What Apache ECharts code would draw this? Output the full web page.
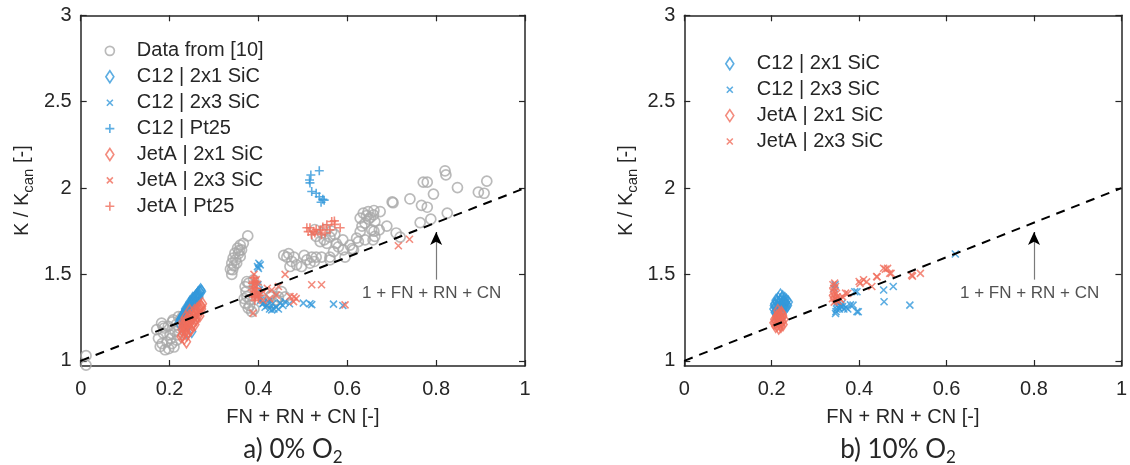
<!DOCTYPE html>
<html>
<head>
<meta charset="utf-8">
<script src="https://cdn.jsdelivr.net/npm/echarts@6/dist/echarts.min.js"></script>
<style>
  html, body { margin: 0; padding: 0; background: #fff; }
  #chart { width: 1130px; height: 465px; }
</style>
</head>
<body>
<div id="chart"></div>
<script>
// ---- axis ticks -------------------------------------------------------
const xTicks = [0, 0.2, 0.4, 0.6, 0.8, 1];
const yTicks = [1, 1.5, 2, 2.5, 3];

// reference correlation K/Kcan = 1 + FN + RN + CN
const refLine = [[0, 1], [1, 2]];
const arrowFrom = [0.8, 1.47];
const arrowTo = [0.8, 1.745];
const annotationAt = [0.79, 1.39];
const annotationText = '1 + FN + RN + CN';

// ---- a) 0% O2 ---------------------------------------------------------
const lit0 = [
  [0.012, 1.03], [0.012, 0.975],
  [0.171, 1.18], [0.175, 1.13], [0.179, 1.083], [0.186, 1.16], [0.19, 1.064], [0.182, 1.218],
  [0.197, 1.20], [0.201, 1.15], [0.205, 1.10], [0.208, 1.237], [0.212, 1.17], [0.216, 1.12],
  [0.22, 1.256], [0.194, 1.11], [0.188, 1.19], [0.215, 1.21], [0.203, 1.13], [0.225, 1.24],
  [0.21, 1.08], [0.198, 1.07], [0.183, 1.10], [0.222, 1.19], [0.218, 1.15], [0.23, 1.26],
  [0.224, 1.22], [0.185, 1.20], [0.206, 1.225],
  [0.376, 1.723], [0.359, 1.67], [0.353, 1.652], [0.347, 1.623], [0.355, 1.62], [0.343, 1.594],
  [0.34, 1.565], [0.351, 1.565], [0.342, 1.527], [0.34, 1.50], [0.359, 1.604], [0.362, 1.642],
  [0.366, 1.68], [0.345, 1.55], [0.337, 1.53], [0.349, 1.585], [0.357, 1.64],
  [0.374, 1.459], [0.37, 1.43], [0.374, 1.372], [0.37, 1.334], [0.377, 1.305], [0.385, 1.285],
  [0.381, 1.353], [0.389, 1.469], [0.396, 1.43], [0.372, 1.40], [0.38, 1.32], [0.39, 1.30],
  [0.378, 1.45], [0.368, 1.36],
  [0.426, 1.372], [0.422, 1.334], [0.43, 1.38], [0.441, 1.353], [0.452, 1.40], [0.434, 1.334],
  [0.445, 1.37], [0.415, 1.35], [0.46, 1.37],
  [0.464, 1.60], [0.475, 1.575], [0.486, 1.556], [0.497, 1.546], [0.509, 1.584], [0.52, 1.60],
  [0.53, 1.60], [0.516, 1.565], [0.471, 1.546], [0.542, 1.60], [0.561, 1.584], [0.457, 1.61],
  [0.468, 1.62], [0.48, 1.60], [0.503, 1.61], [0.526, 1.575],
  [0.527, 1.76], [0.543, 1.74], [0.539, 1.69], [0.554, 1.68], [0.561, 1.716], [0.572, 1.73],
  [0.569, 1.632], [0.561, 1.60], [0.591, 1.642], [0.595, 1.60], [0.606, 1.67], [0.614, 1.642],
  [0.575, 1.68], [0.59, 1.70], [0.548, 1.70], [0.53, 1.72], [0.565, 1.75], [0.58, 1.66], [0.55, 1.76],
  [0.621, 1.71], [0.629, 1.748], [0.64, 1.70], [0.655, 1.758], [0.662, 1.72], [0.64, 1.797],
  [0.629, 1.826], [0.662, 1.806], [0.636, 1.855], [0.647, 1.864], [0.659, 1.845], [0.652, 1.83],
  [0.643, 1.84], [0.633, 1.78], [0.648, 1.82], [0.611, 1.65], [0.625, 1.69],
  [0.66, 1.87], [0.674, 1.864], [0.701, 1.92], [0.703, 1.915], [0.689, 1.78], [0.672, 1.758],
  [0.66, 1.75], [0.71, 1.74], [0.719, 1.716], [0.658, 1.70], [0.741, 1.937], [0.767, 1.90],
  [0.78, 1.889], [0.771, 2.034], [0.78, 2.034], [0.794, 1.965], [0.82, 2.10], [0.822, 2.076],
  [0.848, 2.003], [0.895, 1.976], [0.908, 1.97], [0.914, 2.04], [0.764, 1.80], [0.788, 1.82],
  [0.825, 1.855]
];
const c12Sic21_0 = [
  [0.222, 1.22], [0.225, 1.24], [0.228, 1.25], [0.23, 1.262], [0.232, 1.27], [0.235, 1.283],
  [0.238, 1.29], [0.24, 1.30], [0.243, 1.312], [0.245, 1.32], [0.248, 1.33], [0.25, 1.345],
  [0.253, 1.35], [0.255, 1.36], [0.258, 1.372], [0.26, 1.375], [0.263, 1.385], [0.265, 1.394],
  [0.268, 1.40], [0.27, 1.41], [0.272, 1.402], [0.236, 1.30], [0.246, 1.34], [0.252, 1.36],
  [0.262, 1.38], [0.255, 1.33], [0.242, 1.28], [0.232, 1.245], [0.266, 1.37], [0.24, 1.16],
  [0.25, 1.17], [0.227, 1.23], [0.258, 1.35],
  [0.224, 1.235], [0.229, 1.255], [0.233, 1.275], [0.237, 1.295], [0.241, 1.305], [0.244, 1.325],
  [0.249, 1.34], [0.254, 1.355], [0.259, 1.365], [0.264, 1.39], [0.269, 1.395], [0.247, 1.31],
  [0.238, 1.27], [0.256, 1.345], [0.261, 1.36]
];
const c12Sic23_0 = [
  [0.398, 1.545], [0.401, 1.565], [0.404, 1.555], [0.40, 1.535], [0.399, 1.44], [0.402, 1.41],
  [0.40, 1.38], [0.405, 1.35], [0.41, 1.33], [0.415, 1.31], [0.42, 1.32], [0.425, 1.30],
  [0.43, 1.295], [0.435, 1.30], [0.44, 1.31], [0.445, 1.30], [0.449, 1.334], [0.46, 1.343],
  [0.47, 1.33], [0.501, 1.334], [0.516, 1.33], [0.52, 1.325], [0.569, 1.328], [0.59, 1.32],
  [0.422, 1.343], [0.411, 1.334], [0.432, 1.33], [0.455, 1.32]
];
const c12Pt25_0 = [
  [0.537, 2.10], [0.518, 2.076], [0.515, 2.047], [0.516, 2.03], [0.52, 1.98], [0.53, 1.97],
  [0.537, 1.95], [0.545, 1.935], [0.541, 1.918], [0.548, 1.93]
];
const jetSic21_0 = [
  [0.226, 1.14], [0.228, 1.18], [0.23, 1.20], [0.232, 1.16], [0.234, 1.22], [0.236, 1.19],
  [0.238, 1.11], [0.24, 1.24], [0.242, 1.20], [0.244, 1.26], [0.246, 1.23], [0.248, 1.18],
  [0.25, 1.27], [0.252, 1.25], [0.254, 1.22], [0.256, 1.29], [0.258, 1.27], [0.26, 1.24],
  [0.262, 1.30], [0.264, 1.28], [0.266, 1.31], [0.268, 1.26], [0.27, 1.32], [0.272, 1.30],
  [0.274, 1.33], [0.229, 1.22], [0.235, 1.25], [0.245, 1.29], [0.239, 1.15], [0.233, 1.13],
  [0.257, 1.21], [0.243, 1.17], [0.246, 1.18], [0.257, 1.237], [0.272, 1.314],
  [0.228, 1.15], [0.231, 1.21], [0.236, 1.17], [0.241, 1.22], [0.247, 1.25], [0.251, 1.21],
  [0.255, 1.26], [0.259, 1.28], [0.263, 1.26], [0.267, 1.30], [0.249, 1.23], [0.237, 1.23],
  [0.232, 1.19]
];
const jetSic23_0 = [
  [0.39, 1.50], [0.388, 1.276], [0.395, 1.47], [0.41, 1.40], [0.42, 1.42], [0.43, 1.41],
  [0.44, 1.38], [0.46, 1.50], [0.445, 1.43], [0.471, 1.372], [0.48, 1.37], [0.479, 1.343],
  [0.485, 1.36], [0.52, 1.44], [0.542, 1.44], [0.595, 1.324], [0.715, 1.666], [0.74, 1.704],
  [0.41, 1.35], [0.425, 1.36]
];
const jetPt25_0 = [
  [0.39, 1.48], [0.392, 1.45], [0.388, 1.43], [0.395, 1.42], [0.39, 1.40], [0.398, 1.39],
  [0.386, 1.38], [0.393, 1.37], [0.40, 1.36], [0.392, 1.35], [0.397, 1.44], [0.389, 1.46],
  [0.405, 1.40], [0.40, 1.375], [0.391, 1.42], [0.387, 1.45], [0.394, 1.39], [0.396, 1.46],
  [0.389, 1.37], [0.402, 1.38], [0.386, 1.41],
  [0.509, 1.77], [0.516, 1.77], [0.524, 1.75], [0.53, 1.76], [0.539, 1.758], [0.542, 1.73],
  [0.554, 1.787], [0.565, 1.806], [0.572, 1.79], [0.584, 1.77], [0.561, 1.758], [0.55, 1.74],
  [0.512, 1.748], [0.52, 1.73], [0.527, 1.74], [0.545, 1.775], [0.571, 1.81]
];

// ---- b) 10% O2 --------------------------------------------------------
const c12Sic21_10 = [
  [0.205, 1.30], [0.207, 1.33], [0.208, 1.28], [0.21, 1.35], [0.212, 1.31], [0.214, 1.29],
  [0.215, 1.36], [0.217, 1.33], [0.218, 1.30], [0.22, 1.38], [0.221, 1.35], [0.222, 1.32],
  [0.224, 1.29], [0.225, 1.37], [0.227, 1.34], [0.229, 1.31], [0.23, 1.36], [0.232, 1.33],
  [0.234, 1.35], [0.236, 1.32], [0.238, 1.34], [0.212, 1.27], [0.206, 1.32], [0.226, 1.30],
  [0.219, 1.345], [0.209, 1.31], [0.213, 1.34], [0.216, 1.31], [0.223, 1.36], [0.228, 1.33],
  [0.231, 1.34], [0.233, 1.31], [0.22, 1.32], [0.211, 1.29]
];
const c12Sic23_10 = [
  [0.345, 1.44], [0.346, 1.274], [0.347, 1.285], [0.348, 1.30], [0.35, 1.32], [0.352, 1.31],
  [0.355, 1.30], [0.358, 1.315], [0.362, 1.314], [0.365, 1.30], [0.37, 1.31], [0.374, 1.30],
  [0.38, 1.324], [0.386, 1.322], [0.39, 1.40], [0.395, 1.40], [0.395, 1.285], [0.398, 1.284],
  [0.456, 1.41], [0.457, 1.342], [0.478, 1.43], [0.516, 1.322], [0.62, 1.618], [0.35, 1.34],
  [0.343, 1.42], [0.36, 1.33]
];
const jetSic21_10 = [
  [0.205, 1.22], [0.207, 1.24], [0.209, 1.20], [0.21, 1.23], [0.212, 1.26], [0.213, 1.21],
  [0.215, 1.24], [0.216, 1.19], [0.217, 1.27], [0.219, 1.22], [0.22, 1.25], [0.222, 1.28],
  [0.223, 1.23], [0.225, 1.26], [0.226, 1.21], [0.228, 1.24], [0.214, 1.29], [0.221, 1.20],
  [0.211, 1.25], [0.224, 1.27], [0.208, 1.22], [0.212, 1.23], [0.218, 1.25], [0.22, 1.21],
  [0.216, 1.26], [0.223, 1.25]
];
const jetSic23_10 = [
  [0.34, 1.44], [0.342, 1.42], [0.344, 1.40], [0.341, 1.38], [0.345, 1.36], [0.343, 1.34],
  [0.348, 1.35], [0.35, 1.37], [0.346, 1.43], [0.34, 1.40], [0.352, 1.345], [0.355, 1.36],
  [0.348, 1.39], [0.339, 1.36], [0.344, 1.45], [0.358, 1.355], [0.362, 1.37],
  [0.369, 1.392], [0.374, 1.39], [0.40, 1.459], [0.402, 1.448], [0.41, 1.469], [0.417, 1.457],
  [0.429, 1.43], [0.44, 1.488], [0.441, 1.486], [0.456, 1.536], [0.46, 1.53], [0.465, 1.535],
  [0.47, 1.507], [0.473, 1.506], [0.52, 1.496], [0.522, 1.49], [0.54, 1.506]
];

// ---- styling ----------------------------------------------------------
const INK = '#262626';
const BLUE = '#3399db';
const RED = '#f06e5d';
const GRAY = '#a9a9a9';
const FONT = 'Liberation Sans';
const CAPTION_FONT = 'Lato';

const SYMBOL = {
  circle: 'circle',
  diamond: 'path://M5,0L10,7L5,14L0,7Z',
  cross: 'path://M0,0L10,10M0,10L10,0',
  plus: 'path://M5,0L5,10M0,5L10,5'
};
const SYMBOL_SIZE = { circle: 10, diamond: [8, 12], cross: 7, plus: 9 };
// legend glyphs live in a 20x20 box so that their drawn size stays small
const LEGEND_ICON = {
  circle: 'path://M0,0M20,20M5.5,10a4.5,4.5 0 1,0 9,0a4.5,4.5 0 1,0 -9,0Z',
  diamond: 'path://M0,0M20,20M10,4L14,10L10,16L6,10Z',
  cross: 'path://M0,0M20,20M7,7L13,13M7,13L13,7',
  plus: 'path://M0,0M20,20M10,5.5L10,14.5M5.5,10L14.5,10'
};

const NAMES = {
  lit: 'Data from [10]',
  c21: 'C12 | 2x1 SiC',
  c23: 'C12 | 2x3 SiC',
  cpt: 'C12 | Pt25',
  j21: 'JetA | 2x1 SiC',
  j23: 'JetA | 2x3 SiC',
  jpt: 'JetA | Pt25'
};

function strokeWidth(shape) { return shape === 'circle' ? 1.7 : 1.6; }

function scatter(name, data, g, shape, color) {
  return {
    type: 'scatter', name, data,
    xAxisIndex: g * 2, yAxisIndex: g * 2,
    symbol: SYMBOL[shape], symbolSize: SYMBOL_SIZE[shape],
    itemStyle: { color: 'rgba(0,0,0,0)', borderColor: color, borderWidth: strokeWidth(shape) },
    silent: true, animation: false, z: 2
  };
}

function legendItem(name, shape, color) {
  return {
    name, icon: LEGEND_ICON[shape],
    itemStyle: { color: 'rgba(0,0,0,0)', borderColor: color, borderWidth: strokeWidth(shape) }
  };
}

function refSeries(g) {
  return [{
    type: 'line', data: refLine, xAxisIndex: g * 2, yAxisIndex: g * 2,
    showSymbol: false, symbol: 'none', silent: true, animation: false, z: 5,
    lineStyle: { color: '#000', width: 2, type: [9, 7] },
    markLine: {
      silent: true, animation: false, label: { show: false }, emphasis: { disabled: true },
      data: [
        [{ coord: arrowFrom, symbol: 'none', lineStyle: { color: '#7a7a7a', width: 1.2, type: 'solid' } },
         { coord: [arrowTo[0], arrowTo[1] - 0.03], symbol: 'none' }],
        [{ coord: [arrowTo[0], arrowTo[1] - 0.05], symbol: 'none', lineStyle: { color: '#000', width: 1.2, type: 'solid' } },
         { coord: arrowTo, symbol: 'arrow', symbolSize: [9, 13] }]
      ]
    }
  }, {
    type: 'scatter', data: [annotationAt], xAxisIndex: g * 2, yAxisIndex: g * 2,
    symbolSize: 0, silent: true, animation: false, z: 6,
    label: { show: true, position: 'inside', formatter: annotationText, color: INK, fontSize: 17, fontFamily: FONT }
  }];
}

const lineStyle = { color: INK, width: 1.5 };
const tickStyle = { color: INK, width: 1.2 };

function xAxes(g) {
  const base = { gridIndex: g, type: 'value', min: 0, max: 1, interval: 0.2, splitLine: { show: false },
    axisLine: { show: true, onZero: false, lineStyle }, axisTick: { show: true, inside: true, length: 6, lineStyle: tickStyle } };
  return [
    Object.assign({}, base, {
      position: 'bottom',
      axisLabel: { color: INK, fontSize: 20, fontFamily: FONT, margin: 13 },
      name: 'FN + RN + CN [-]', nameLocation: 'middle', nameGap: 41,
      nameTextStyle: { color: INK, fontSize: 20, fontFamily: FONT }
    }),
    Object.assign({}, base, { position: 'top', axisLabel: { show: false } })
  ];
}

function yAxes(g) {
  const base = { gridIndex: g, type: 'value', min: 0.97, max: 3, splitLine: { show: false },
    axisLine: { show: true, onZero: false, lineStyle },
    axisTick: { show: true, inside: true, length: 6, lineStyle: tickStyle, customValues: yTicks } };
  return [
    Object.assign({}, base, {
      position: 'left',
      axisLabel: { color: INK, fontSize: 20, fontFamily: FONT, margin: 9, customValues: yTicks },
      name: '{a|K / K}{s|can}{a| [-]}', nameLocation: 'middle', nameRotate: 90, nameGap: 44,
      nameTextStyle: {
        color: INK, fontFamily: FONT,
        rich: {
          a: { fontSize: 20, lineHeight: 28, color: INK, fontFamily: FONT },
          s: { fontSize: 15, lineHeight: 12, verticalAlign: 'bottom', color: INK, fontFamily: FONT }
        }
      }
    }),
    Object.assign({}, base, { position: 'right', axisLabel: { show: false, customValues: yTicks } })
  ];
}

const legendBase = {
  orient: 'vertical', itemWidth: 44, itemHeight: 20, itemGap: 4.3, selectedMode: false,
  textStyle: { color: INK, fontSize: 20, fontFamily: FONT, lineHeight: 20 }
};

const captionRich = {
  t: { fontSize: 26, fontFamily: CAPTION_FONT, fill: INK, lineHeight: 32 },
  s: { fontSize: 17, fontFamily: CAPTION_FONT, fill: INK, lineHeight: 14, verticalAlign: 'bottom' }
};

const option = {
  backgroundColor: '#fff',
  animation: false,
  grid: [
    { left: 80.7, top: 15.3, width: 444.3, height: 350.7 },
    { left: 684.3, top: 15.3, width: 444.3, height: 350.7 }
  ],
  xAxis: [...xAxes(0), ...xAxes(1)],
  yAxis: [...yAxes(0), ...yAxes(1)],
  legend: [
    Object.assign({}, legendBase, {
      left: 94, top: 35,
      data: [
        legendItem(NAMES.lit, 'circle', GRAY),
        legendItem(NAMES.c21, 'diamond', BLUE),
        legendItem(NAMES.c23, 'cross', BLUE),
        legendItem(NAMES.cpt, 'plus', BLUE),
        legendItem(NAMES.j21, 'diamond', RED),
        legendItem(NAMES.j23, 'cross', RED),
        legendItem(NAMES.jpt, 'plus', RED)
      ]
    }),
    Object.assign({}, legendBase, {
      left: 714, top: 48,
      data: [
        legendItem(NAMES.c21, 'diamond', BLUE),
        legendItem(NAMES.c23, 'cross', BLUE),
        legendItem(NAMES.j21, 'diamond', RED),
        legendItem(NAMES.j23, 'cross', RED)
      ]
    })
  ],
  graphic: [
    { type: 'text', x: 293, y: 450, style: { text: '{t|a) 0% O}{s|2}', rich: captionRich, align: 'center', verticalAlign: 'middle' } },
    { type: 'text', x: 898, y: 450, style: { text: '{t|b) 10% O}{s|2}', rich: captionRich, align: 'center', verticalAlign: 'middle' } }
  ],
  series: [
    scatter(NAMES.lit, lit0, 0, 'circle', GRAY),
    scatter(NAMES.c21, c12Sic21_0, 0, 'diamond', BLUE),
    scatter(NAMES.c23, c12Sic23_0, 0, 'cross', BLUE),
    scatter(NAMES.cpt, c12Pt25_0, 0, 'plus', BLUE),
    scatter(NAMES.j21, jetSic21_0, 0, 'diamond', RED),
    scatter(NAMES.j23, jetSic23_0, 0, 'cross', RED),
    scatter(NAMES.jpt, jetPt25_0, 0, 'plus', RED),
    ...refSeries(0),
    scatter(NAMES.c21, c12Sic21_10, 1, 'diamond', BLUE),
    scatter(NAMES.c23, c12Sic23_10, 1, 'cross', BLUE),
    scatter(NAMES.j21, jetSic21_10, 1, 'diamond', RED),
    scatter(NAMES.j23, jetSic23_10, 1, 'cross', RED),
    ...refSeries(1)
  ]
};

const chart = echarts.init(document.getElementById('chart'));
chart.setOption(option);
</script>
</body>
</html>
